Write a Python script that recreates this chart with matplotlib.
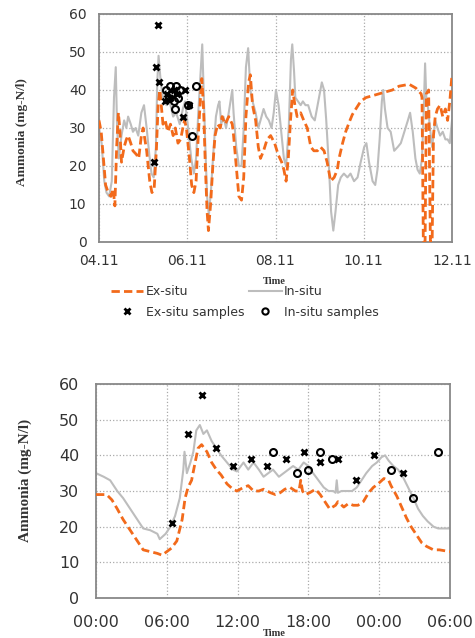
import numpy as np
import matplotlib
matplotlib.use('Agg')
import matplotlib.pyplot as plt
from matplotlib.lines import Line2D

# top chart: 04.11 - 12.11, time in days since 04.11 00:00
top_ex_t = [0, 0.05, 0.1, 0.15, 0.21, 0.27, 0.32, 0.36, 0.4, 0.44, 0.47, 0.51, 0.57, 0.62, 0.66, 0.72, 0.77,
            0.85, 0.9, 0.96, 1.0, 1.08, 1.15, 1.2, 1.25, 1.3, 1.34, 1.38, 1.41, 1.45, 1.5, 1.56, 1.62, 1.68,
            1.73, 1.79, 1.85, 1.9, 1.94, 1.98, 2.05, 2.1, 2.15, 2.2, 2.25, 2.3, 2.33, 2.37, 2.41, 2.45, 2.48,
            2.53, 2.58, 2.63, 2.69, 2.75, 2.79, 2.86, 2.94, 3.02, 3.05, 3.11, 3.17, 3.23, 3.28, 3.33, 3.39,
            3.43, 3.48, 3.55, 3.61, 3.66, 3.73, 3.81, 3.89, 3.98, 4.06, 4.14, 4.19, 4.24, 4.29, 4.34, 4.39,
            4.44, 4.49, 4.57, 4.64, 4.72, 4.8, 4.87, 4.95, 5.02, 5.1, 5.17, 5.25, 5.33, 5.4, 5.44, 5.52, 5.59,
            5.67, 5.74, 5.82, 5.93, 6.05, 6.2, 6.35, 6.5, 6.65, 6.8, 7.03, 7.18, 7.3, 7.32, 7.35, 7.39, 7.42,
            7.47, 7.51, 7.55, 7.58, 7.62, 7.67, 7.73, 7.79, 7.85, 7.9, 7.95, 8.0]
top_ex = [32, 29, 22, 15, 13, 12, 14, 9.5, 25, 34, 30, 21, 25, 27, 28, 26, 24,
          23, 22, 28, 30, 24, 16, 13, 14, 24, 36, 40, 36, 31, 32, 29, 31, 28,
          30, 26, 27, 30, 32, 30, 22, 15, 13, 16, 28, 38, 43, 35, 20, 8, 3,
          10, 20, 28, 31, 30, 33, 31, 33, 31, 28, 20, 12, 11, 17, 33, 42,
          44, 36, 32, 25, 22, 24, 27, 28, 26, 23, 21, 19, 16, 22, 32, 40,
          36, 33, 34, 32, 30, 25, 24, 24, 25, 24, 21, 16, 17, 19, 22, 26, 29,
          31.5, 33.5, 35, 37, 38, 38.5, 39, 39.5, 40, 41, 41.5, 40.5, 39, 38, 0, 0, 39,
          40, 0, 0, 28, 33, 35, 36, 33, 35, 32, 37, 44]

top_in_t = [0, 0.06, 0.12, 0.17, 0.23, 0.29, 0.34, 0.38, 0.41, 0.45, 0.51, 0.57, 0.62, 0.66, 0.72, 0.77, 0.83,
            0.89, 0.96, 1.02, 1.08, 1.14, 1.19, 1.24, 1.29, 1.32, 1.35, 1.4, 1.45, 1.53, 1.6, 1.68, 1.75, 1.83,
            1.9, 1.95, 2.02, 2.09, 2.15, 2.2, 2.25, 2.3, 2.34, 2.37, 2.41, 2.45, 2.49, 2.54, 2.6, 2.65, 2.7,
            2.73, 2.77, 2.82, 2.88, 2.94, 3.02, 3.05, 3.11, 3.17, 3.23, 3.28, 3.33, 3.38, 3.43, 3.48, 3.55,
            3.61, 3.66, 3.73, 3.79, 3.85, 3.91, 3.96, 4.01, 4.07, 4.14, 4.19, 4.24, 4.3, 4.35, 4.38, 4.42,
            4.45, 4.51, 4.57, 4.62, 4.68, 4.74, 4.82, 4.89, 4.97, 5.05, 5.1, 5.15, 5.21, 5.26, 5.31, 5.36,
            5.42, 5.48, 5.55, 5.63, 5.7, 5.78, 5.86, 5.93, 6.01, 6.06, 6.12, 6.2, 6.26, 6.31, 6.36, 6.41,
            6.44, 6.48, 6.54, 6.61, 6.69, 6.77, 6.84, 6.92, 7.0, 7.05, 7.11, 7.17, 7.22, 7.27, 7.32, 7.36,
            7.39, 7.42, 7.45, 7.5, 7.55, 7.58, 7.62, 7.67, 7.73, 7.79, 7.85, 7.9, 7.95, 8.0]
top_in = [30, 26, 16, 13, 12, 16, 38, 46, 30, 22, 28, 32, 30, 33, 31, 29, 30,
          28, 34, 36, 30, 23, 18, 17, 25, 42, 49, 42, 38, 36, 37, 33, 34, 31,
          35, 37, 30, 22, 18, 22, 34, 44, 52, 40, 25, 12, 7, 14, 25, 33, 36,
          37, 31, 33, 30, 34, 40, 34, 25, 20, 20, 30, 46, 51, 40, 37, 34,
          30, 32, 35, 33, 32, 30, 34, 40, 36, 28, 22, 20, 30, 48, 52, 45,
          38, 37, 36, 37, 36, 36, 33, 32, 37, 42, 40, 32, 20, 8, 3, 8,
          15, 17, 18, 17, 18, 16, 17, 21, 25, 26, 21, 16, 15, 19, 27, 37,
          40, 35, 30, 29, 24, 25, 26, 29, 32, 34, 29, 22, 19, 18, 22, 35,
          47, 37, 36, 30, 25, 28, 32, 30, 28, 29, 27, 27, 26, 32]

top_ex_smp_t = [1.33, 1.30, 1.37, 1.25, 1.49, 1.55, 1.62, 1.70, 1.76, 1.91, 1.95, 2.04]
top_ex_smp = [57, 46, 42, 21, 37, 39, 38, 40, 39, 33, 40, 36]
top_in_smp_t = [1.52, 1.58, 1.60, 1.64, 1.70, 1.72, 1.75, 1.80, 1.83, 2.02, 2.10, 2.20]
top_in_smp = [40, 38, 41, 39, 37, 35, 41, 38, 40, 36, 28, 41]

top_ticks = [0, 2, 4, 6, 8]
top_labels = ['04.11', '06.11', '08.11', '10.11', '12.11']

# bottom chart: 30 hours from 00:00, time in hours
bot_ex_t = [0, 0.4, 0.9, 1.35, 1.8, 2.3, 2.9, 3.5, 4.0, 4.6, 5.2, 5.6, 6.0, 6.4, 6.85, 7.3, 7.55, 7.8, 8.1,
            8.4, 8.65, 8.95, 9.4, 9.8, 10.2, 10.6, 11.1, 11.6, 11.94, 12.5, 12.9, 13.35, 13.8, 14.2, 14.8,
            15.2, 15.6, 16.0, 16.45, 16.9, 17.2, 17.35, 17.5, 17.7, 18.1, 18.6, 19.0, 19.4, 19.8, 20.3, 20.5,
            21.0, 21.4, 21.8, 22.2, 22.65, 23.1, 23.5, 23.9, 24.4, 24.8, 25.0, 25.5, 25.9, 26.3, 26.7, 27.2,
            27.6, 28.0, 28.6, 29.1, 30.0]
bot_ex = [29, 29, 29, 27.5, 25, 22, 19, 16, 13.5, 13, 12.5, 12, 13, 14, 16, 22, 28, 31, 33,
          38, 42, 43, 41, 38, 36, 34.5, 32, 30.5, 30, 31, 31.5, 30, 30, 30.5, 29.5,
          29, 29.5, 30.5, 31, 30, 30, 33, 30, 29, 29.5, 30.5, 29, 27, 25, 26, 27,
          25.5, 26.5, 26, 26, 27, 29.5, 31, 32, 33.5, 33, 31.5, 28.5, 25.5, 22.5, 20, 17.5,
          15.5, 14.5, 13.5, 13.5, 13]

bot_in_t = [0, 0.65, 1.2, 1.8, 2.3, 2.9, 3.5, 4.0, 4.6, 5.2, 5.4, 5.9, 6.3, 6.7, 7.1, 7.4, 7.5, 7.7, 8.0,
            8.25, 8.5, 8.8, 9.1, 9.4, 9.8, 10.2, 10.6, 11.1, 11.6, 11.94, 12.5, 12.9, 13.35, 13.8, 14.2,
            14.6, 15.0, 15.5, 15.9, 16.3, 16.7, 17.15, 17.6, 18.0, 18.4, 18.85, 19.3, 19.7, 20.1, 20.3, 20.4,
            20.5, 20.8, 21.2, 21.7, 22.1, 22.5, 22.9, 23.4, 23.8, 24.2, 24.5, 24.8, 25.2, 25.6, 26.0, 26.45,
            26.9, 27.3, 27.7, 28.1, 28.6, 29.0, 29.6, 30.0]
bot_in = [35, 34, 33, 30, 28, 25, 22, 19.5, 19, 18, 16.5, 18, 20, 23, 28, 36, 41, 35, 38,
          41, 47, 48.5, 46, 47, 44, 42, 40, 38, 36, 35.5, 38, 36, 38, 36, 34,
          35, 36, 34, 35, 36, 37, 36, 38, 37, 35, 33, 31, 30, 30, 29.5, 33,
          29.5, 30, 30, 30, 31, 33, 35, 37, 38, 39.5, 40, 38.5, 37, 36, 34, 31,
          28, 25, 23, 21.5, 20, 19.5, 19.5, 19.5]

bot_ex_smp_t = [6.4, 7.8, 9.0, 10.2, 11.6, 13.1, 14.5, 16.1, 17.6, 19.0, 20.5, 22.0, 23.6, 26.0]
bot_ex_smp = [21, 46, 57, 42, 37, 39, 37, 39, 41, 38, 39, 33, 40, 35]
bot_in_smp_t = [15.0, 17.0, 18.0, 19.0, 19.97, 24.96, 26.9, 29.0]
bot_in_smp = [41, 35, 36, 41, 39, 36, 28, 41]

bot_ticks = [0, 6, 12, 18, 24, 30]
bot_labels = ['00:00', '06:00', '12:00', '18:00', '00:00', '06:00']

orange = '#f26a1b'
grey = '#bdbdbd'
txt = '#333333'


def style(ax, ticks, labels, xmax, fs, pad):
    ax.set_xlim(0, xmax)
    ax.set_ylim(0, 60)
    ax.set_xticks(ticks)
    ax.set_xticklabels(labels)
    ax.set_yticks(range(0, 61, 10))
    ax.tick_params(length=0, labelsize=fs, colors=txt, pad=pad)
    ax.grid(True, color='#aaaaaa', linestyle=':', linewidth=0.9)
    for s in ax.spines.values():
        s.set_color('#888888')
        s.set_linewidth(1.3)


fig = plt.figure(figsize=(4.75, 6.38), dpi=100)

ax1 = fig.add_axes([0.2084, 0.6207, 0.7432, 0.3574])
ax1.plot(top_in_t, top_in, color=grey, lw=1.5, zorder=2)
ax1.plot(top_ex_t, top_ex, color=orange, lw=2, dashes=(3, 1.5), zorder=3)
ax1.plot(top_ex_smp_t, top_ex_smp, 'x', color='black', ms=4.5, mew=2, zorder=4)
ax1.plot(top_in_smp_t, top_in_smp, 'o', mfc='none', mec='black', ms=5, mew=1.5, zorder=4)
style(ax1, top_ticks, top_labels, 8, 10, 9)

ax2 = fig.add_axes([0.2021, 0.0627, 0.7453, 0.3354])
ax2.plot(bot_in_t, bot_in, color=grey, lw=1.5, zorder=2)
ax2.plot(bot_ex_t, bot_ex, color=orange, lw=2, dashes=(3, 1.5), zorder=3)
ax2.plot(bot_ex_smp_t, bot_ex_smp, 'x', color='black', ms=4.5, mew=2, zorder=4)
ax2.plot(bot_in_smp_t, bot_in_smp, 'o', mfc='none', mec='black', ms=5, mew=1.5, zorder=4)
style(ax2, bot_ticks, bot_labels, 30, 11.5, 12)

# axis titles
fig.text(22 / 475, 1 - 132 / 638, 'Ammonia (mg-N/l)', rotation=90, ha='center', va='center',
         family='Liberation Serif', weight='bold', fontsize=9.5, color=txt)
fig.text(25 / 475, 1 - 480 / 638, 'Ammonia (mg-N/l)', rotation=90, ha='center', va='center',
         family='Liberation Serif', weight='bold', fontsize=11, color=txt)
fig.text(274 / 475, 1 - 281 / 638, 'Time', ha='center', va='center',
         family='Liberation Serif', weight='bold', fontsize=7.5, color=txt)
fig.text(274 / 475, 1 - 633 / 638, 'Time', ha='center', va='center',
         family='Liberation Serif', weight='bold', fontsize=7.5, color=txt)

handles = [Line2D([], [], color=orange, lw=2, dashes=(3, 1.5)),
           Line2D([], [], ls='none', marker='x', color='black', ms=4.5, mew=2),
           Line2D([], [], color=grey, lw=1.5),
           Line2D([], [], ls='none', marker='o', mfc='none', mec='black', ms=4.5, mew=1.5)]
names = ['Ex-situ', 'Ex-situ samples', 'In-situ', 'In-situ samples']
leg = fig.legend(handles, names, ncol=2, loc='center', bbox_to_anchor=(0.515, 1 - 302 / 638),
                 frameon=False, fontsize=9, handlelength=2.6, handletextpad=0.2,
                 columnspacing=0.4, labelspacing=0.6)
for t in leg.get_texts():
    t.set_color(txt)

plt.savefig('out.png', dpi=100)
